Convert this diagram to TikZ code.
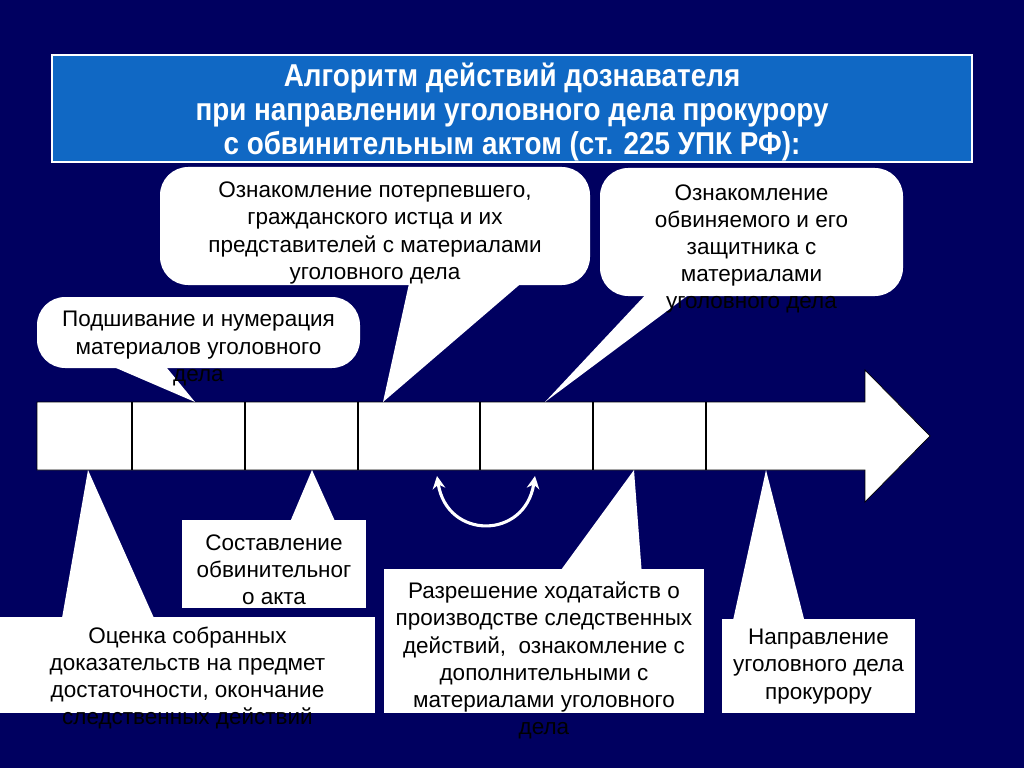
\documentclass[tikz,border=0pt]{standalone}
\usepackage{fontspec}
\setmainfont{Liberation Sans}
\newfontfamily\titlefont{Liberation Sans}[FakeStretch=0.88]
\usetikzlibrary{positioning, fit, calc, arrows.meta}
\definecolor{navy}{RGB}{0,0,96}
\definecolor{titleblue}{RGB}{16,104,196}

\begin{document}
\begin{tikzpicture}[
      x=0.025cm, y=-0.025cm,
      font=\fontsize{16}{19.3}\selectfont,
      titlebox/.style={fill=titleblue, draw=white, line width=1.2pt, inner sep=0pt},
      topbox/.style={fill=white, rounded corners=20pt, inner sep=0pt},
      botbox/.style={fill=white, inner sep=0pt},
      calltext/.style={align=center, text=black, inner sep=0pt},
      tail/.style={fill=white},
      timeline/.style={fill=white, draw=black, line width=0.5pt},
      backforth/.style={{Stealth[length=9pt,width=9pt]}-{Stealth[length=9pt,width=9pt]}, white, line width=2.2pt}
  ]
  % Background -------------------------------------------
  \fill[navy] (0,0) rectangle (1024,768);
  \useasboundingbox (0,0) rectangle (1024,768);

  % Title ------------------------------------------------
  \node[titlebox, fit={(52,55) (972,162)}] (title) {};
  \node[text=white, align=center, font=\titlefont\bfseries\fontsize{22.5}{24.4}\selectfont] (titletxt) at (512,112)
      {Алгоритм действий дознавателя\\ при направлении уголовного дела прокурору\\ с обвинительным актом (ст. 225 УПК РФ):};

  % Timeline arrow ---------------------------------------
  \filldraw[timeline] (37,402) -- (865,402) -- (865,370) -- (930,436) -- (865,502) -- (865,470) -- (37,470) -- cycle;
  \foreach \x in {132,245,358,480,593,706}
      \draw[black, line width=0.8pt] (\x,402) -- (\x,470);

  \coordinate (pSew)     at (195,402);
  \coordinate (pVictim)  at (383,402);
  \coordinate (pAccused) at (545,402);
  \coordinate (pAssess)  at (88,470);
  \coordinate (pIndict)  at (312,470);
  \coordinate (pMotion)  at (634,470);
  \coordinate (pSend)    at (766,470);
  \coordinate (swapL)    at (437,476);
  \coordinate (swapR)    at (535,476);

  % Boxes ------------------------------------------------
  \node[topbox, fit={(37,297) (360,368)}]  (sew)     {};
  \node[topbox, fit={(160,167) (590,285)}] (victim)  {};
  \node[topbox, fit={(600,168) (903,296)}] (accused) {};
  \node[botbox, fit={(182,520) (366,608)}] (indict)  {};
  \node[botbox, fit={(0,617) (375,713)}]   (assess)  {};
  \node[botbox, fit={(384,569) (704,713)}] (motion)  {};
  \node[botbox, fit={(722,619) (915,713)}] (send)    {};

  % Tails ------------------------------------------------
  \fill[tail] ($(sew.south west)+(73,-3)$) -- (pSew) -- ($(sew.south west)+(128,-3)$) -- cycle;
  \fill[tail] ($(victim.south west)+(250,-5)$) -- (pVictim) -- ($(victim.south west)+(365,-5)$) -- cycle;
  \fill[tail] ($(accused.south west)+(50,-6)$) -- (pAccused) -- ($(accused.south west)+(95,-6)$) -- cycle;
  \fill[tail] ($(indict.north west)+(108,3)$) -- (pIndict) -- ($(indict.north west)+(154,3)$) -- cycle;
  \fill[tail] ($(assess.north west)+(62,3)$) -- (pAssess) -- ($(assess.north west)+(155,3)$) -- cycle;
  \fill[tail] ($(motion.north west)+(176,3)$) -- (pMotion) -- ($(motion.north west)+(258,3)$) -- cycle;
  \fill[tail] ($(send.north west)+(11,3)$) -- (pSend) -- ($(send.north west)+(83,3)$) -- cycle;

  % Texts ------------------------------------------------
  \node[calltext] (sewtxt) at (198.5,348.5)
      {Подшивание и нумерация\\ материалов уголовного\\ дела};
  \node[calltext] (victimtxt) at (375,233)
      {Ознакомление потерпевшего,\\ гражданского истца и их\\ представителей с материалами\\ уголовного дела};
  \node[calltext] (accusedtxt) at (751.5,249)
      {Ознакомление\\ обвиняемого и его\\ защитника с\\ материалами\\ уголовного дела};
  \node[calltext] (indicttxt) at (274,570)
      {Составление\\ обвинительног\\ о акта};
  \node[calltext] (assesstxt) at (187.5,678)
      {Оценка собранных\\ доказательств на предмет\\ достаточности, окончание\\ следственных действий};
  \node[calltext] (motiontxt) at (544,660.5)
      {Разрешение ходатайств о\\ производстве следственных\\ действий,\ \ ознакомление с\\ дополнительными с\\ материалами уголовного\\ дела};
  \node[calltext] (sendtxt) at (818.5,666.5)
      {Направление\\ уголовного дела\\ прокурору};

  % Back and forth ---------------------------------------
  \draw[backforth] (swapL) .. controls (447,540) and (525,540) .. (swapR);
\end{tikzpicture}
\end{document}
